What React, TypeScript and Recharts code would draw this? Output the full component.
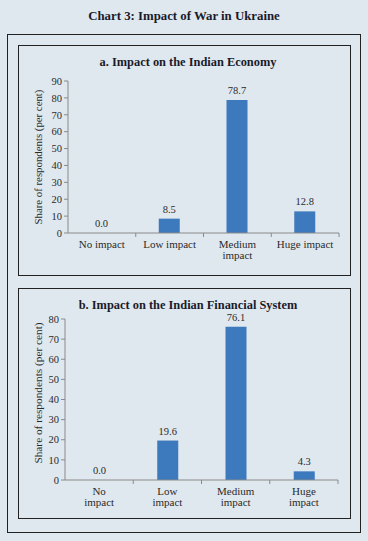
import React from "react";
import { Bar, BarChart, LabelList, XAxis, YAxis } from "recharts";

const categoriesA = ["No impact", "Low impact", "Medium|impact", "Huge impact"];
const valuesA = [0.0, 8.5, 78.7, 12.8];
const ticksA = [0, 10, 20, 30, 40, 50, 60, 70, 80, 90];

const categoriesB = ["No|impact", "Low|impact", "Medium|impact", "Huge|impact"];
const valuesB = [0.0, 19.6, 76.1, 4.3];
const ticksB = [0, 10, 20, 30, 40, 50, 60, 70, 80];

const FONT = "'Liberation Serif', 'DejaVu Serif', serif";
const BAR = "#3c79bd";
const AXIS = "#8a8a8a";
const INK = "#2a2a2a";

function makeTick(band: number) {
  return function CatTick(props: any) {
    const { x, y, payload } = props;
    const lines = String(payload.value).split("|");
    return (
      <g>
        <line x1={x + band / 2} x2={x + band / 2} y1={y - 8} y2={y - 4} stroke={AXIS} />
        <text x={x} y={y + 7} textAnchor="middle" fontSize={11} fill={INK} fontFamily={FONT}>
          {lines.map((l, i) => (
            <tspan key={i} x={x} dy={i === 0 ? 0 : 11}>
              {l}
            </tspan>
          ))}
        </text>
      </g>
    );
  };
}

interface PanelProps {
  cats: string[];
  vals: number[];
  ticks: number[];
  width: number;
  height: number;
  margin: { top: number; right: number; left: number; bottom: number };
  yWidth: number;
}

function Panel({ cats, vals, ticks, width, height, margin, yWidth }: PanelProps) {
  const data = cats.map((c, i) => ({ label: c, value: vals[i] }));
  const band = (width - margin.left - margin.right - yWidth) / cats.length;
  return (
    <BarChart width={width} height={height} data={data} margin={margin} barCategoryGap={0}>
      <XAxis
        dataKey="label"
        axisLine={{ stroke: AXIS }}
        tickLine={false}
        interval={0}
        height={30}
        tick={makeTick(band)}
      />
      <YAxis
        domain={[0, ticks[ticks.length - 1]]}
        ticks={ticks}
        width={yWidth}
        axisLine={{ stroke: AXIS }}
        tickLine={{ stroke: AXIS }}
        tickSize={4}
        tick={{ fontSize: 10.5, fill: INK, fontFamily: FONT }}
      />
      <Bar dataKey="value" fill={BAR} barSize={21} minPointSize={0.01} isAnimationActive={false}>
        <LabelList
          dataKey="value"
          position="top"
          offset={6}
          fontSize={10.5}
          fill={INK}
          fontFamily={FONT}
          formatter={(v: any) => Number(v).toFixed(1)}
        />
      </Bar>
    </BarChart>
  );
}

const boxStyle: React.CSSProperties = {
  position: "absolute",
  border: "1px solid #222",
  boxSizing: "border-box",
};

const titleStyle: React.CSSProperties = {
  position: "absolute",
  left: 0,
  width: 368,
  textAlign: "center",
  fontFamily: FONT,
  fontWeight: "bold",
  color: "#1a1a2a",
  lineHeight: "16px",
};

const yLabelStyle: React.CSSProperties = {
  position: "absolute",
  width: 200,
  textAlign: "center",
  fontFamily: FONT,
  color: INK,
  lineHeight: "12px",
  transform: "rotate(-90deg)",
};

export default function App() {
  return (
    <div
      style={{
        position: "absolute",
        left: 0,
        top: 0,
        width: 368,
        height: 541,
        background: "#dfe8ef",
        fontFamily: FONT,
      }}
    >
      <div style={{ ...titleStyle, top: 8, fontSize: 12.8 }}>Chart 3: Impact of War in Ukraine</div>
      <div style={{ ...boxStyle, left: 7, top: 34, width: 354, height: 499 }} />
      <div style={{ ...boxStyle, left: 18, top: 45, width: 333, height: 231 }} />
      <div style={{ ...boxStyle, left: 18, top: 288, width: 333, height: 231 }} />

      <div style={{ ...titleStyle, top: 54, fontSize: 12.4, left: 4 }}>a. Impact on the Indian Economy</div>
      <div style={{ ...titleStyle, top: 297, fontSize: 12.4, left: 4 }}>b. Impact on the Indian Financial System</div>

      <div style={{ ...yLabelStyle, fontSize: 10.8, left: 38 - 100, top: 157 - 6 }}>Share of respondents (per cent)</div>
      <div style={{ ...yLabelStyle, fontSize: 11.3, left: 38 - 100, top: 393 - 6 }}>Share of respondents (per cent)</div>

      <div style={{ position: "absolute", left: 18, top: 72 }}>
        <Panel
          cats={categoriesA}
          vals={valuesA}
          ticks={ticksA}
          width={332}
          height={204}
          margin={{ top: 9, right: 11, left: 20, bottom: 13 }}
          yWidth={30}
        />
      </div>
      <div style={{ position: "absolute", left: 18, top: 300 }}>
        <Panel
          cats={categoriesB}
          vals={valuesB}
          ticks={ticksB}
          width={332}
          height={218}
          margin={{ top: 19, right: 12, left: 17, bottom: 8 }}
          yWidth={30}
        />
      </div>
    </div>
  );
}
